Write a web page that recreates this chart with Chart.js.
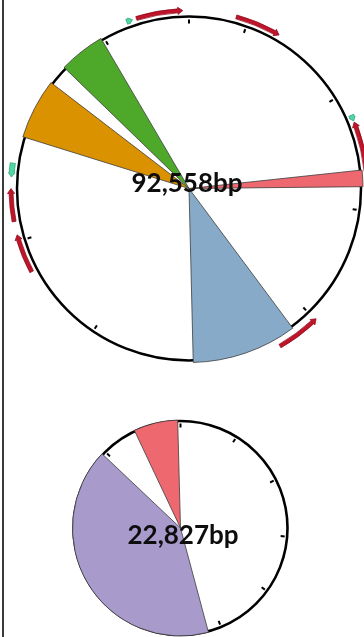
<!DOCTYPE html>
<html>
<head>
<meta charset="utf-8">
<script src="https://cdn.jsdelivr.net/npm/chart.js@4.4.1/dist/chart.umd.min.js"></script>
<style>
  html, body { margin: 0; padding: 0; background: #ffffff; }
  #page { position: relative; width: 364px; height: 637px; overflow: hidden; background: #ffffff; }
  #rule { position: absolute; left: 2px; top: 0; width: 2px; height: 637px; background: #3a3a3a; }
  #mapA { position: absolute; left: 0; top: 0; }
  #mapB { position: absolute; left: 0; top: 380px; }
</style>
</head>
<body>
<div id="page">
  <div id="rule"></div>
  <canvas id="mapA" width="364" height="380"></canvas>
  <canvas id="mapB" width="364" height="257"></canvas>
</div>
<script>
// ---- Plasmid A (92,558 bp) ----
const aLength = 92558;
const aLabel = '92,558bp';
const aRegionStart = [21571, 36870, 73866, 80757];
const aRegionEnd   = [22985, 45918, 79060, 84743];
const aRegionColor = ['#ee6870', '#87aac8', '#db9200', '#4ea92a'];
const aTicks = [0, 5000, 15000, 25000, 35000, 45000, 55000, 65000, 75000, 85000];

// annotated features around plasmid A (bp, strand, kind, track)
const aFeatStart  = [88136, 3959, 17509, 34890, 66666, 62245, 70370, 87288, 16892];
const aFeatEnd    = [92044, 7816, 21725, 38566, 69419, 65536, 71527, 87802, 17406];
const aFeatStrand = [1, 1, -1, -1, 1, 1, -1, 1, 1];
const aFeatKind   = ['gene', 'gene', 'gene', 'gene', 'gene', 'gene', 'mobile', 'mobile', 'mobile'];
const aFeatTrack  = [0, 0, 0, 1, 0, 0, 0, 0, 0];

// ---- Plasmid B (22,827 bp) ----
const bLength = 22827;
const bLabel = '22,827bp';
const bRegionStart = [10462, 21223];
const bRegionEnd   = [19873, 22732];
const bRegionColor = ['#a89acb', '#ee6870'];
const bTicks = [0, 2000, 4000, 6000, 8000, 10000, 12000, 14000, 16000, 18000, 20000, 22000];

const featStyle = {
  gene:   { fill: '#c0142b', stroke: '#860a18', half: 2, headHalf: 3.6, headLen: 5 },
  mobile: { fill: '#4ed9a4', stroke: '#2a9a72', half: 2.6, headHalf: 3.2, headLen: 4 }
};

// Split the circle into coloured regions and transparent gaps for the pie.
function buildSegments(length, starts, ends, colors) {
  const data = [], bg = [], bw = [];
  let pos = 0;
  starts.forEach((s, i) => {
    if (s > pos) { data.push(s - pos); bg.push('rgba(0,0,0,0)'); bw.push(0); }
    data.push(ends[i] - s); bg.push(colors[i]); bw.push(0.8);
    pos = ends[i];
  });
  if (pos < length) { data.push(length - pos); bg.push('rgba(0,0,0,0)'); bw.push(0); }
  return { data, bg, bw };
}

function bpAngle(bp, length) {
  return -Math.PI / 2 + (bp / length) * Math.PI * 2;
}

function drawArrow(ctx, cx, cy, r, a0, a1, strand, st) {
  const headAng = st.headLen / r;
  const pt = (rad, ang) => [cx + rad * Math.cos(ang), cy + rad * Math.sin(ang)];
  ctx.beginPath();
  if (strand > 0) {
    const ah = Math.max(a0, a1 - headAng);
    ctx.arc(cx, cy, r + st.half, a0, ah, false);
    ctx.lineTo(...pt(r + st.headHalf, ah));
    ctx.lineTo(...pt(r, a1));
    ctx.lineTo(...pt(r - st.headHalf, ah));
    ctx.arc(cx, cy, r - st.half, ah, a0, true);
  } else {
    const ah = Math.min(a1, a0 + headAng);
    ctx.moveTo(...pt(r, a0));
    ctx.lineTo(...pt(r + st.headHalf, ah));
    ctx.arc(cx, cy, r + st.half, ah, a1, false);
    ctx.arc(cx, cy, r - st.half, a1, ah, true);
    ctx.lineTo(...pt(r - st.headHalf, ah));
  }
  ctx.closePath();
  ctx.fillStyle = st.fill;
  ctx.fill();
  ctx.lineWidth = 0.7;
  ctx.strokeStyle = st.stroke;
  ctx.stroke();
}

// Backbone ring, ticks, feature arrows and size label around the pie.
const plasmidMap = {
  id: 'plasmidMap',
  beforeDatasetsDraw(chart, args, o) {
    const arc = chart.getDatasetMeta(0).data[0];
    const ctx = chart.ctx;
    const cx = arc.x, cy = arc.y;
    ctx.save();
    ctx.strokeStyle = '#000000';
    ctx.lineWidth = o.ringWidth;
    ctx.beginPath();
    ctx.arc(cx, cy, o.ringRadius, 0, Math.PI * 2);
    ctx.stroke();
    ctx.lineWidth = 2;
    ctx.lineCap = 'butt';
    o.ticks.forEach(t => {
      const a = bpAngle(t, o.length);
      const r0 = o.ringRadius - o.tickGap - o.tickLen, r1 = o.ringRadius - o.tickGap;
      ctx.beginPath();
      ctx.moveTo(cx + r0 * Math.cos(a), cy + r0 * Math.sin(a));
      ctx.lineTo(cx + r1 * Math.cos(a), cy + r1 * Math.sin(a));
      ctx.stroke();
    });
    ctx.restore();
  },
  afterDatasetsDraw(chart, args, o) {
    const arc = chart.getDatasetMeta(0).data[0];
    const ctx = chart.ctx;
    const cx = arc.x, cy = arc.y;
    ctx.save();
    (o.featStart || []).forEach((s, i) => {
      const st = featStyle[o.featKind[i]];
      const r = o.featRadius + o.featTrack[i] * 4;
      drawArrow(ctx, cx, cy, r, bpAngle(s, o.length), bpAngle(o.featEnd[i], o.length), o.featStrand[i], st);
    });
    ctx.fillStyle = '#0d0d0d';
    ctx.font = 'bold 26px Lato, "Liberation Sans", sans-serif';
    ctx.textAlign = 'center';
    ctx.textBaseline = 'alphabetic';
    ctx.fillText(o.label, o.labelX, o.labelY);
    ctx.restore();
  }
};

function makeMap(canvasId, length, starts, ends, colors, radius, padding, extra) {
  const seg = buildSegments(length, starts, ends, colors);
  return new Chart(document.getElementById(canvasId), {
    type: 'pie',
    data: {
      labels: seg.data.map((_, i) => 'segment ' + (i + 1)),
      datasets: [{
        data: seg.data,
        backgroundColor: seg.bg,
        borderColor: '#3c3c3c',
        borderWidth: seg.bw,
        radius: radius,
        hoverOffset: 0,
        clip: false
      }]
    },
    options: {
      responsive: false,
      animation: false,
      devicePixelRatio: 1,
      events: [],
      radius: radius,
      layout: { padding: padding },
      plugins: {
        legend: { display: false },
        tooltip: { enabled: false },
        plasmidMap: Object.assign({ length: length }, extra)
      }
    },
    plugins: [plasmidMap]
  });
}

makeMap('mapA', aLength, aRegionStart, aRegionEnd, aRegionColor, 174,
  { left: 14, right: 0, top: 0, bottom: 3 },
  {
    ringRadius: 172, ringWidth: 2.5, tickLen: 4, tickGap: 3, ticks: aTicks,
    featStart: aFeatStart, featEnd: aFeatEnd, featStrand: aFeatStrand,
    featKind: aFeatKind, featTrack: aFeatTrack, featRadius: 178,
    label: aLabel, labelX: 187, labelY: 192
  });

makeMap('mapB', bLength, bRegionStart, bRegionEnd, bRegionColor, 108,
  { left: 0, right: 3, top: 39, bottom: 0 },
  {
    ringRadius: 107, ringWidth: 2.6, tickLen: 4, tickGap: 2.5, ticks: bTicks,
    label: bLabel, labelX: 183, labelY: 164
  });
</script>
</body>
</html>
